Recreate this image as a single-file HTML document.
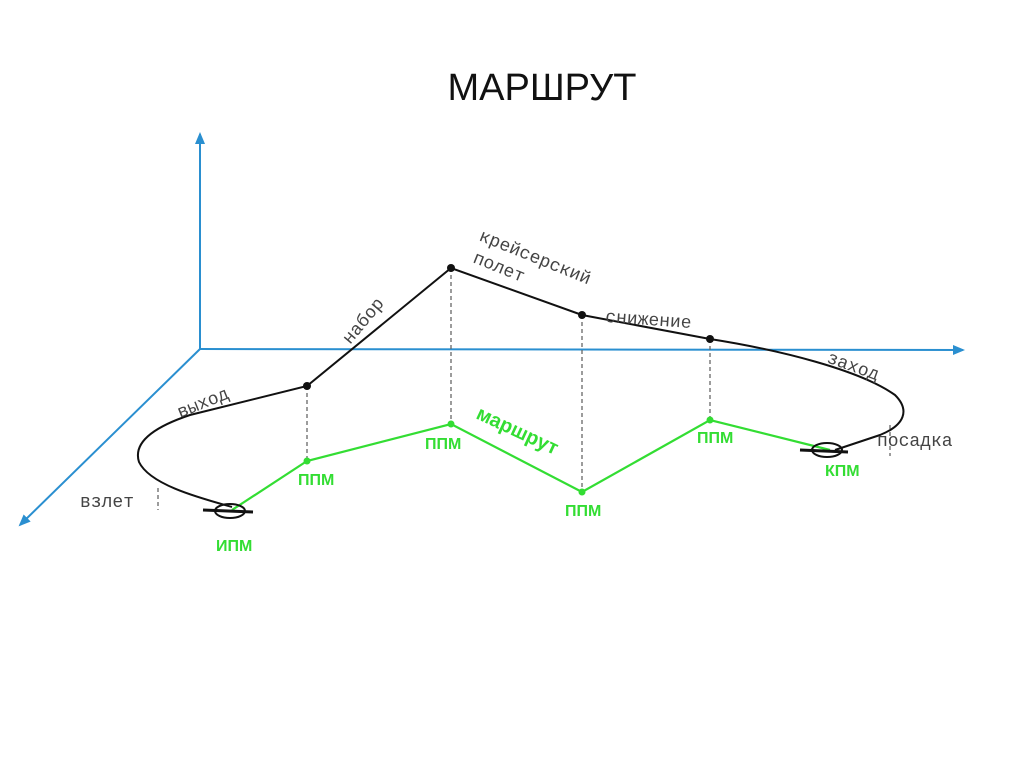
<!DOCTYPE html>
<html><head><meta charset="utf-8"><style>
body{margin:0;background:#fff;width:1024px;height:767px;overflow:hidden}
.m{font-family:"Liberation Mono","DejaVu Sans Mono",monospace;font-size:18px;fill:#444}
.g{font-family:"Liberation Sans",sans-serif;font-size:16px;font-weight:bold;fill:#33dd33}
</style></head><body>
<svg width="1024" height="767" viewBox="0 0 1024 767" xmlns="http://www.w3.org/2000/svg">
<defs><marker id="a" markerWidth="12" markerHeight="10" refX="10" refY="5" orient="auto" markerUnits="userSpaceOnUse"><path d="M0,0 L12,5 L0,10 z" fill="#2a8fd0"/></marker></defs>
<text x="542" y="100" style="font-family:'Liberation Sans',sans-serif;font-size:38px" text-anchor="middle" fill="#111">МАРШРУТ</text>
<g stroke="#2a8fd0" stroke-width="2" fill="none">
<line x1="200" y1="349" x2="200" y2="134" marker-end="url(#a)"/>
<line x1="200" y1="349" x2="963" y2="350" marker-end="url(#a)"/>
<line x1="200" y1="349" x2="20" y2="525" marker-end="url(#a)"/>
</g>
<g stroke="#666" stroke-width="1.3" stroke-dasharray="4,3">
<line x1="307" y1="386" x2="307" y2="461"/>
<line x1="451" y1="268" x2="451" y2="424"/>
<line x1="582" y1="315" x2="582" y2="492"/>
<line x1="710" y1="339" x2="710" y2="420"/>
<line x1="158" y1="488" x2="158" y2="510"/>
<line x1="890" y1="425" x2="890" y2="456"/>
</g>
<path d="M232,507 C200,498 150,485 139,462 C132,440 160,425 190,415 L307,386 L451,268 L582,315 L710,339 C780,350 860,370 895,395 C910,410 905,425 880,435 L835,450" fill="none" stroke="#111" stroke-width="2"/>
<g fill="#111"><circle cx="307" cy="386" r="4"/><circle cx="451" cy="268" r="4"/><circle cx="582" cy="315" r="4"/><circle cx="710" cy="339" r="4"/></g>
<polyline points="232,510 307,461 451,424 582,492 710,420 830,450" fill="none" stroke="#33dd33" stroke-width="2.2"/>
<g fill="#33dd33"><circle cx="307" cy="461" r="3.5"/><circle cx="451" cy="424" r="3.5"/><circle cx="582" cy="492" r="3.5"/><circle cx="710" cy="420" r="3.5"/></g>
<g stroke="#111" stroke-width="2" fill="none">
<ellipse cx="230" cy="511" rx="15" ry="7"/><line x1="203" y1="510" x2="253" y2="512" stroke-width="3"/>
<ellipse cx="827" cy="450" rx="15" ry="7"/><line x1="800" y1="450" x2="848" y2="452" stroke-width="3"/>
</g>
<text class="m" x="80" y="507">взлет</text>
<text class="m" x="877" y="446">посадка</text>
<text class="m" transform="translate(180,418) rotate(-22)">выход</text>
<text class="m" transform="translate(350,345) rotate(-50)">набор</text>
<text class="m" transform="translate(478,240) rotate(22)">крейсерский</text>
<text class="m" transform="translate(472,262) rotate(22)">полет</text>
<text class="m" transform="translate(605,322) rotate(4)">снижение</text>
<text class="m" transform="translate(826,362) rotate(20)">заход</text>
<text class="g" x="298" y="485">ППМ</text>
<text class="g" x="425" y="449">ППМ</text>
<text class="g" x="565" y="516">ППМ</text>
<text class="g" x="697" y="443">ППМ</text>
<text class="g" x="825" y="476">КПМ</text>
<text class="g" x="216" y="551">ИПМ</text>
<text class="g" transform="translate(475,418) rotate(25)" style="font-size:20px">маршрут</text>
</svg>
</body></html>
